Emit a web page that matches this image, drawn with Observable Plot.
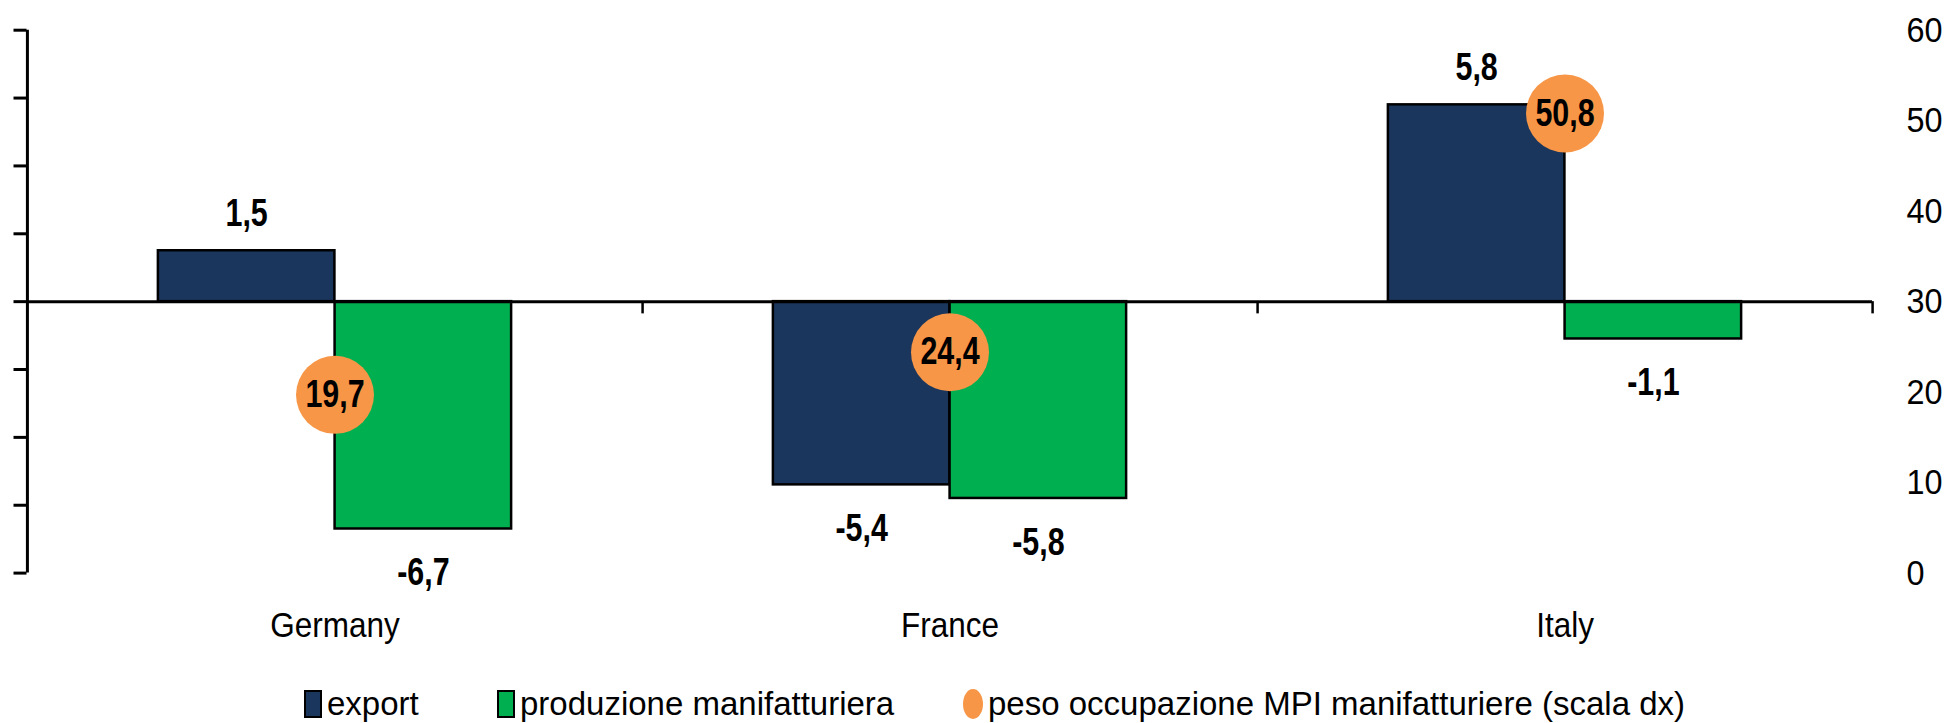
<!DOCTYPE html>
<html>
<head>
<meta charset="utf-8">
<script src="https://cdn.jsdelivr.net/npm/d3@7"></script>
<script src="https://cdn.jsdelivr.net/npm/@observablehq/plot@0.6"></script>
<style>
  html, body { margin: 0; padding: 0; background: #fff; }
  body { width: 1948px; height: 723px; overflow: hidden; position: relative; font-family: "Liberation Sans", Arial, sans-serif; }
  #legend { position: absolute; left: 0; top: 684px; width: 1948px; height: 40px; font-size: 33px; color: #000; }
  .item { position: absolute; top: 0; height: 40px; line-height: 40px; white-space: nowrap; }
  .sw { display: inline-block; vertical-align: middle; box-sizing: border-box; margin-right: 5px; position: relative; top: -2px; }
  .sq { width: 18px; height: 28px; border: 2.5px solid #000; }
  .ci { width: 20px; height: 30px; border-radius: 50%; }
</style>
</head>
<body>
<div id="chart"></div>
<div id="legend"></div>
<script>
const categories = ["Germany", "France", "Italy"];
const exportValues = [1.5, -5.4, 5.8];
const productionValues = [-6.7, -5.8, -1.1];
const pesoValues = [19.7, 24.4, 50.8];
const leftTicks = [-8, -6, -4, -2, 0, 2, 4, 6, 8];
const rightTicks = [0, 10, 20, 30, 40, 50, 60];
const seriesNames = ["export", "produzione manifatturiera", "peso occupazione MPI manifatturiere (scala dx)"];
const colors = ["#1B365D", "#00B050", "#F79646"];

const rows = categories.map((c, i) => ({country: c, exp: exportValues[i], prod: productionValues[i], peso: pesoValues[i]}));
const toLeft = v => (v - 30) * 8 / 30;
const fromLeft = d => Math.round(d * 30 / 8 + 30);
const fmt = v => String(v).replace(".", ",");

const W = 1948, H = 665;
const mL = 26.5, mR = 76, mT = 29.7, mB = H - 572.6;
const band = (W - mL - mR) / 3;
const barW = 176.7;
const half = band / 2;
const lblSize = 38;

const plot = Plot.plot({
  width: W,
  height: H,
  marginLeft: mL,
  marginRight: mR,
  marginTop: mT,
  marginBottom: mB,
  style: {fontFamily: "'Liberation Sans', Arial, sans-serif", background: "white", color: "#000", overflow: "visible"},
  x: {type: "band", domain: categories, padding: 0, label: null},
  y: {domain: [-8, 8], label: null},
  marks: [
    Plot.barY(rows, {x: "country", y: "exp", fill: colors[0], stroke: "#000", strokeWidth: 2.5, insetLeft: half - barW, insetRight: half}),
    Plot.barY(rows, {x: "country", y: "prod", fill: colors[1], stroke: "#000", strokeWidth: 2.5, insetLeft: half, insetRight: half - barW}),
    Plot.ruleY([0], {stroke: "#000", strokeWidth: 3}),
    Plot.ruleX(categories, {x: d => d, y1: 0, y2: -0.36, dx: half, stroke: "#000", strokeWidth: 2.5}),
    Plot.ruleX([categories[0]], {x: d => d, y1: -8, y2: 8, dx: -half, stroke: "#000", strokeWidth: 3}),
    Plot.axisY({anchor: "left", ticks: leftTicks, tickSize: 13, tickFormat: () => "", strokeWidth: 3, label: null}),
    Plot.axisY({anchor: "right", ticks: rightTicks.map(toLeft), tickFormat: fromLeft, tickSize: 0, tickPadding: 34, fontSize: 36, label: null}),
    Plot.axisX({anchor: "bottom", tickSize: 0, tickPadding: 39, fontSize: 35, label: null}),
    Plot.text(rows.filter(d => d.exp >= 0), {x: "country", y: "exp", text: d => fmt(d.exp), dx: -barW / 2, dy: -37, fontWeight: "bold", fontSize: lblSize, fill: "#000"}),
    Plot.text(rows.filter(d => d.exp < 0), {x: "country", y: "exp", text: d => fmt(d.exp), dx: -barW / 2, dy: 44, fontWeight: "bold", fontSize: lblSize, fill: "#000"}),
    Plot.text(rows.filter(d => d.prod >= 0), {x: "country", y: "prod", text: d => fmt(d.prod), dx: barW / 2, dy: -37, fontWeight: "bold", fontSize: lblSize, fill: "#000"}),
    Plot.text(rows.filter(d => d.prod < 0), {x: "country", y: "prod", text: d => fmt(d.prod), dx: barW / 2, dy: 44, fontWeight: "bold", fontSize: lblSize, fill: "#000"}),
    Plot.dot(rows, {x: "country", y: d => toLeft(d.peso), r: 39, fill: colors[2], stroke: "none"}),
    Plot.text(rows, {x: "country", y: d => toLeft(d.peso), text: d => fmt(d.peso), fontWeight: "bold", fontSize: lblSize, fill: "#000"})
  ]
});
document.getElementById("chart").appendChild(plot);

// horizontally condense texts (the original typography is narrow)
function condense(sel, k) {
  plot.querySelectorAll(sel).forEach(t => {
    const bb = t.getBBox();
    const cx = bb.x + bb.width / 2;
    const tr = t.getAttribute("transform") || "";
    t.setAttribute("transform", `${tr} translate(${cx},0) scale(${k},1) translate(${-cx},0)`);
  });
}
condense('g[font-weight="bold"] text', 0.8);
condense('g[aria-label="x-axis tick label"] text', 0.9);
plot.querySelectorAll('g[aria-label="y-axis tick label"] text').forEach(t => {
  const bb = t.getBBox();
  const lx = bb.x;
  const tr = t.getAttribute("transform") || "";
  t.setAttribute("transform", `${tr} translate(${lx},0) scale(0.9,1) translate(${-lx},0)`);
});

const legendPos = [304, 497, 963];
const legend = document.getElementById("legend");
seriesNames.forEach((name, i) => {
  const item = document.createElement("div");
  item.className = "item";
  item.style.left = legendPos[i] + "px";
  const sw = document.createElement("span");
  sw.className = "sw " + (i < 2 ? "sq" : "ci");
  sw.style.background = colors[i];
  item.appendChild(sw);
  item.appendChild(document.createTextNode(name));
  legend.appendChild(item);
});
</script>
</body>
</html>
